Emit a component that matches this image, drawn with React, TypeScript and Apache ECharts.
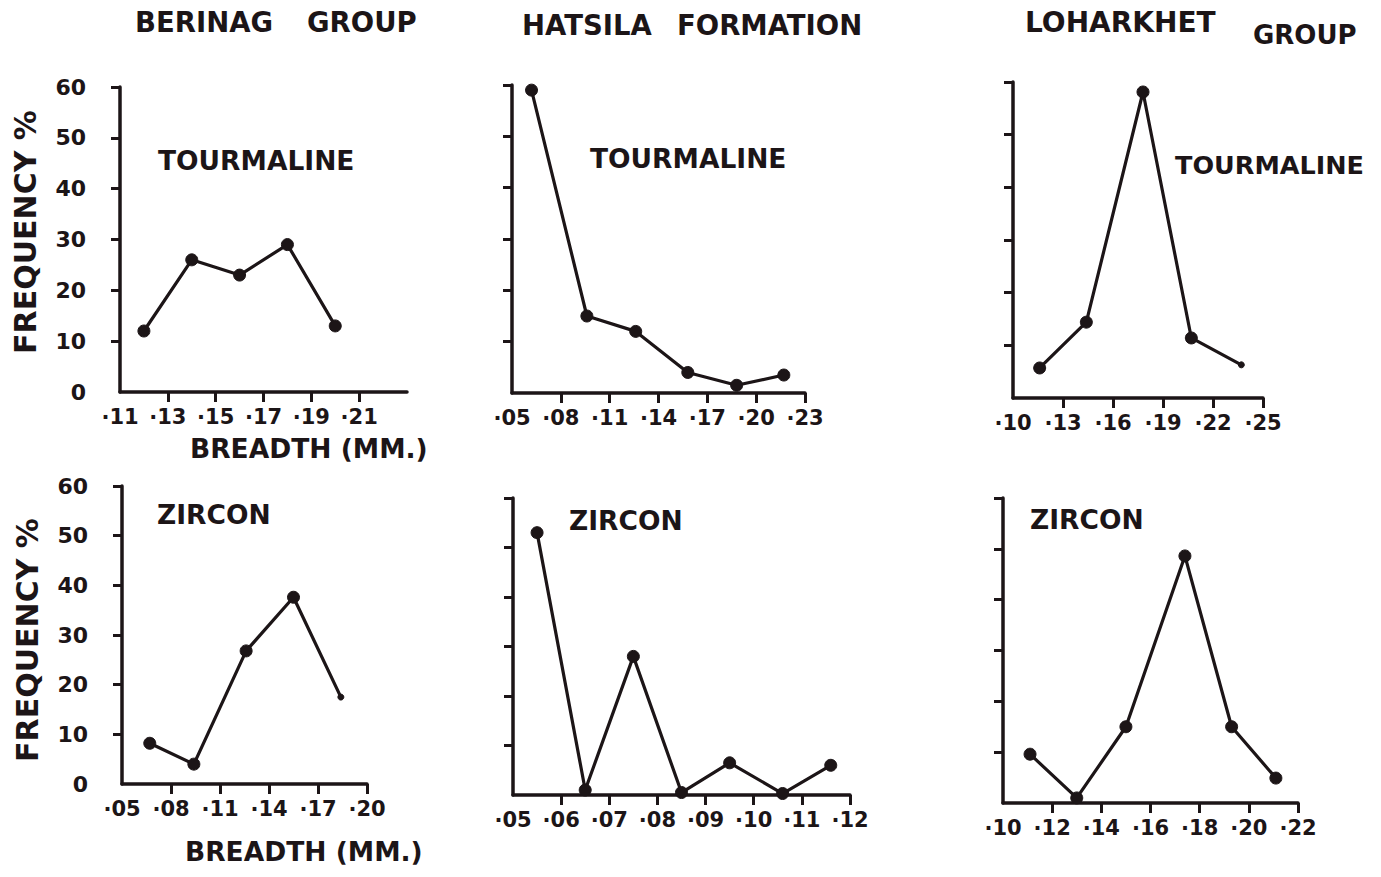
import React, { useEffect, useRef } from "react";
import * as echarts from "echarts";

const INK = "#1c1517";
const FONT = "DejaVu Sans";

// Breadth values are in hundredths of a millimetre (12 => ·12 mm)
const berinagTourX = [12, 14, 16, 18, 20];
const berinagTourY = [12, 26, 23, 29, 13];
const hatsilaTourX = [6.2, 9.6, 12.6, 15.8, 18.8, 21.7];
const hatsilaTourY = [59, 15, 12, 4, 1.5, 3.5];
const loharkhetTourX = [11.6, 14.4, 17.8, 20.7, 23.7];
const loharkhetTourY = [5.7, 14.4, 58.1, 11.4, 6.3];
const berinagZirX = [6.7, 9.4, 12.6, 15.5, 18.4];
const berinagZirY = [8.2, 4, 26.8, 37.6, 17.5];
const hatsilaZirX = [5.5, 6.5, 7.5, 8.5, 9.5, 10.6, 11.6];
const hatsilaZirY = [53, 1, 28, 0.5, 6.5, 0.3, 6];
const loharkhetZirX = [11.1, 13, 15, 17.4, 19.3, 21.1];
const loharkhetZirY = [9.6, 1, 15, 48.6, 15, 4.9];

// x-axis tick labels (hundredths of mm)
const berinagTourTicks = [11, 13, 15, 17, 19, 21];
const hatsilaTourTicks = [5, 8, 11, 14, 17, 20, 23];
const loharkhetTourTicks = [10, 13, 16, 19, 22, 25];
const berinagZirTicks = [5, 8, 11, 14, 17, 20];
const hatsilaZirTicks = [5, 6, 7, 8, 9, 10, 11, 12];
const loharkhetZirTicks = [10, 12, 14, 16, 18, 20, 22];

const freqTicks = [0, 10, 20, 30, 40, 50, 60];

const groups = ["BERINAG", "HATSILA", "LOHARKHET"];
const minerals = ["TOURMALINE", "ZIRCON"];

export default function App() {
  const ref = useRef<HTMLDivElement>(null);
  useEffect(() => {
    document.body.style.margin = "0";
    document.body.style.background = "#ffffff";
    if (!ref.current) return;
    const chart = echarts.init(ref.current, null, { renderer: "svg" });

    const panels = [
      { xs: berinagTourX, ys: berinagTourY, ticks: berinagTourTicks, min: 11, max: 23, grid: { left: 120, top: 87, width: 287, height: 305 }, yLabels: true, small: [] as number[] },
      { xs: hatsilaTourX, ys: hatsilaTourY, ticks: hatsilaTourTicks, min: 5, max: 23, grid: { left: 512, top: 85, width: 293, height: 308 }, yLabels: false, small: [] as number[] },
      { xs: loharkhetTourX, ys: loharkhetTourY, ticks: loharkhetTourTicks, min: 10, max: 25, grid: { left: 1013, top: 82, width: 250, height: 316 }, yLabels: false, small: [4] },
      { xs: berinagZirX, ys: berinagZirY, ticks: berinagZirTicks, min: 5, max: 20, grid: { left: 122, top: 486, width: 245, height: 298 }, yLabels: true, small: [4] },
      { xs: hatsilaZirX, ys: hatsilaZirY, ticks: hatsilaZirTicks, min: 5, max: 12, grid: { left: 513, top: 498, width: 337, height: 297 }, yLabels: false, small: [] as number[] },
      { xs: loharkhetZirX, ys: loharkhetZirY, ticks: loharkhetZirTicks, min: 10, max: 22, grid: { left: 1003, top: 498, width: 295, height: 305 }, yLabels: false, small: [] as number[] },
    ];

    const fmt = (v: number) => "\u00b7" + String(Math.round(v)).padStart(2, "0");

    const txt = (t: string, x: number, y: number, size: number, extra: any = {}) => ({
      type: "text",
      x,
      y,
      ...extra,
      style: {
        text: t,
        fill: INK,
        fontFamily: FONT,
        fontWeight: "bold",
        fontSize: size,
        textAlign: extra.center ? "center" : "left",
        textVerticalAlign: "middle",
      },
    });

    const option: any = {
      animation: false,
      backgroundColor: "#ffffff",
      grid: panels.map((p) => ({ ...p.grid })),
      xAxis: panels.map((p, i) => ({
        type: "value",
        gridIndex: i,
        min: p.min,
        max: p.max,
        axisLine: { show: true, onZero: false, lineStyle: { color: INK, width: 3.5 } },
        axisTick: {
          show: true,
          length: 10,
          lineStyle: { color: INK, width: 3 },
          customValues: p.ticks.filter((t) => t !== p.min),
        },
        axisLabel: {
          show: true,
          margin: 14,
          color: INK,
          fontFamily: FONT,
          fontWeight: "bold",
          fontSize: 21,
          customValues: p.ticks,
          formatter: fmt,
        },
        splitLine: { show: false },
      })),
      yAxis: panels.map((p, i) => ({
        type: "value",
        gridIndex: i,
        min: 0,
        max: 60,
        axisLine: { show: true, lineStyle: { color: INK, width: 3.5 } },
        axisTick: {
          show: true,
          length: 9,
          lineStyle: { color: INK, width: 3 },
          customValues: freqTicks.filter((t) => t !== 0),
        },
        axisLabel: {
          show: p.yLabels,
          margin: 34,
          color: INK,
          fontFamily: FONT,
          fontWeight: "bold",
          fontSize: 22,
          customValues: freqTicks,
        },
        splitLine: { show: false },
      })),
      series: panels.map((p, i) => ({
        type: "line",
        xAxisIndex: i,
        yAxisIndex: i,
        data: p.xs.map((x, k) => ({
          value: [x, p.ys[k]],
          symbolSize: p.small.includes(k) ? 6 : 12,
        })),
        symbol: "circle",
        showSymbol: true,
        lineStyle: { color: INK, width: 3.2 },
        itemStyle: { color: INK, borderColor: INK, borderWidth: 1 },
        z: 3,
      })),
      graphic: [
        txt(groups[0], 135, 22, 27.5),
        txt("GROUP", 307, 22, 27.5),
        txt(groups[1], 522, 25, 27.5),
        txt("FORMATION", 677, 25, 27.5),
        txt(groups[2], 1025, 22, 28),
        txt("GROUP", 1253, 35, 26),
        txt(minerals[0], 158, 160, 26.5),
        txt(minerals[0], 590, 158, 26.5),
        txt(minerals[0], 1175, 165, 25.5),
        txt(minerals[1], 157, 514, 26.5),
        txt(minerals[1], 569, 520, 26.5),
        txt(minerals[1], 1030, 519, 26.5),
        txt("BREADTH (MM.)", 190, 448, 26.5),
        txt("BREADTH (MM.)", 185, 851, 26.5),
        txt("FREQUENCY %", 25, 232, 30, { rotation: Math.PI / 2, center: true }),
        txt("FREQUENCY %", 27, 640, 30, { rotation: Math.PI / 2, center: true }),
      ],
    };

    chart.setOption(option);
    return () => chart.dispose();
  }, []);

  return <div ref={ref} style={{ width: 1381, height: 877 }} />;
}
